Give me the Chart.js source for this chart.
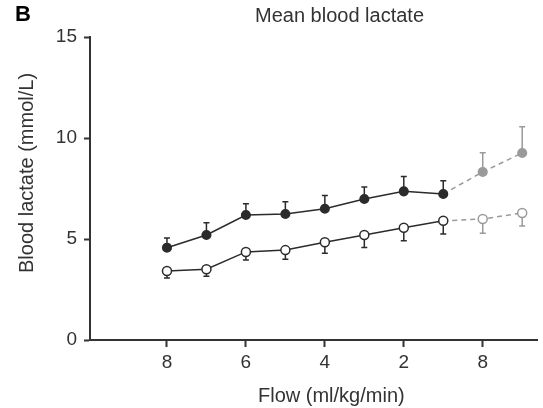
<!DOCTYPE html>
<html>
<head>
<meta charset="utf-8">
<script src="https://cdn.jsdelivr.net/npm/chart.js@4"></script>
<style>
  html, body { margin: 0; padding: 0; background: #fff; }
  #wrap { width: 543px; height: 408px; position: relative; }
</style>
</head>
<body>
<div id="wrap"><canvas id="chart"></canvas></div>
<script>
// x positions (index along the flow steps), tick labels shown under the axis
const steps = [0, 1, 2, 3, 4, 5, 6, 7, 8, 9];
const tickPos = [0, 2, 4, 6, 8];
const tickLabels = ['8', '6', '4', '2', '8'];

// filled circles: mean and upward SD
const filledMean = [4.57, 5.2, 6.19, 6.24, 6.5, 6.98, 7.36, 7.23, 8.32, 9.26];
const filledSD = [0.48, 0.6, 0.55, 0.6, 0.65, 0.6, 0.73, 0.65, 0.95, 1.3];
// open circles: mean and downward SD
const openMean = [3.42, 3.5, 4.36, 4.45, 4.84, 5.2, 5.56, 5.9, 5.99, 6.29];
const openSD = [0.35, 0.35, 0.4, 0.45, 0.55, 0.62, 0.65, 0.65, 0.7, 0.65];

const yTicks = [0, 5, 10, 15];
const greyFrom = 8; // last steps drawn grey and dashed

const DARK = '#2b2b2b';
const GREY = '#9a9a9a';
const TEXT = '#333';
const FONT = 'Liberation Sans, Arial, sans-serif';

const pick = (i) => (i >= greyFrom ? GREY : DARK);

const errorBars = {
  id: 'errorBars',
  beforeDatasetsDraw(chart) {
    const { ctx, scales: { x, y } } = chart;
    ctx.save();
    ctx.lineWidth = 1.5;
    chart.data.datasets.forEach((ds) => {
      ds.data.forEach((pt, i) => {
        const px = x.getPixelForValue(pt.x);
        const y0 = y.getPixelForValue(pt.y);
        const y1 = y.getPixelForValue(pt.y + ds.errDir * ds.err[i]);
        ctx.strokeStyle = pick(i);
        ctx.beginPath();
        ctx.moveTo(px, y0);
        ctx.lineTo(px, y1);
        ctx.moveTo(px - 3, y1);
        ctx.lineTo(px + 3, y1);
        ctx.stroke();
      });
    });
    ctx.restore();
  }
};

// panel letter, title and axis titles
const labels = {
  id: 'labels',
  afterDraw(chart) {
    const { ctx } = chart;
    ctx.save();
    ctx.textBaseline = 'alphabetic';
    ctx.textAlign = 'left';
    ctx.fillStyle = '#000';
    ctx.font = 'bold 22px ' + FONT;
    ctx.fillText('B', 15, 21);
    ctx.fillStyle = TEXT;
    ctx.font = '20px ' + FONT;
    ctx.fillText('Mean blood lactate', 255, 22);
    ctx.fillText('Flow (ml/kg/min)', 258, 402);
    ctx.translate(33, 273);
    ctx.rotate(-Math.PI / 2);
    ctx.fillText('Blood lactate (mmol/L)', 0, 0);
    ctx.restore();
  }
};

const toPts = (arr) => arr.map((v, i) => ({ x: steps[i], y: v }));

const segStyle = {
  borderColor: (c) => (c.p1DataIndex >= greyFrom ? GREY : DARK),
  borderDash: (c) => (c.p1DataIndex >= greyFrom ? [5, 4] : [])
};

new Chart(document.getElementById('chart'), {
  type: 'line',
  data: {
    datasets: [
      {
        data: toPts(filledMean),
        err: filledSD,
        errDir: 1,
        borderColor: DARK,
        borderWidth: 1.5,
        pointRadius: 4.3,
        pointBorderWidth: 1.5,
        pointBackgroundColor: steps.map(pick),
        pointBorderColor: steps.map(pick),
        segment: segStyle
      },
      {
        data: toPts(openMean),
        err: openSD,
        errDir: -1,
        borderColor: DARK,
        borderWidth: 1.5,
        pointRadius: 4.5,
        pointBorderWidth: 1.5,
        pointBackgroundColor: '#fff',
        pointBorderColor: steps.map(pick),
        segment: segStyle
      }
    ]
  },
  options: {
    responsive: true,
    maintainAspectRatio: false,
    animation: false,
    layout: { padding: { top: 37, right: 0, left: 0, bottom: 0 } },
    plugins: { legend: { display: false }, tooltip: { enabled: false } },
    scales: {
      x: {
        type: 'linear',
        min: -1.95,
        max: 9.375,
        afterBuildTicks: (s) => { s.ticks = tickPos.map((v) => ({ value: v })); },
        afterFit: (s) => { s.height = 68; },
        ticks: {
          callback: (v) => tickLabels[tickPos.indexOf(v)],
          color: TEXT,
          font: { family: FONT, size: 19 },
          padding: 4,
          maxRotation: 0
        },
        grid: { drawOnChartArea: false, tickLength: 7, tickColor: '#333', tickWidth: 2 },
        border: { color: '#333', width: 2 }
      },
      y: {
        min: 0,
        max: 15,
        afterBuildTicks: (s) => { s.ticks = yTicks.map((v) => ({ value: v })); },
        afterFit: (s) => { s.width = 90; },
        ticks: {
          color: TEXT,
          font: { family: FONT, size: 19 },
          padding: 7
        },
        grid: { drawOnChartArea: false, tickLength: 6, tickColor: '#333', tickWidth: 2 },
        border: { color: '#333', width: 2 }
      }
    }
  },
  plugins: [errorBars, labels]
});
</script>
</body>
</html>
